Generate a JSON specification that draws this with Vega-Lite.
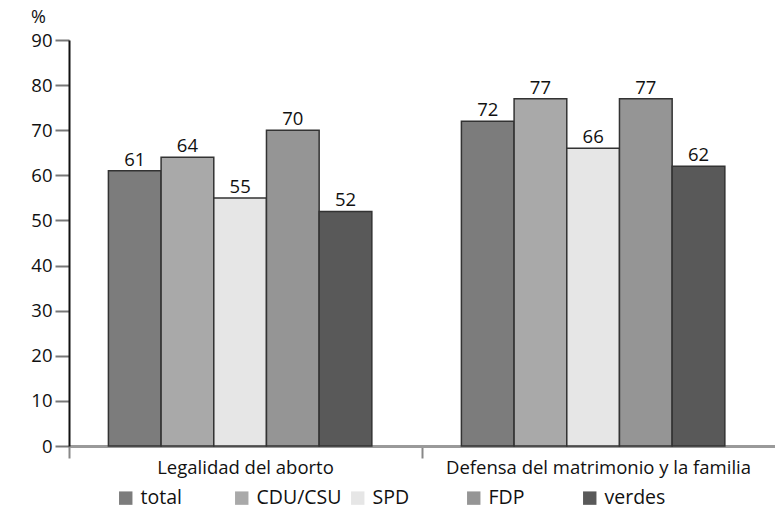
{
  "$schema": "https://vega.github.io/schema/vega-lite/v6.json",
  "autosize": "none",
  "width": 706,
  "height": 406,
  "padding": {"left": 69, "top": 40, "right": 0, "bottom": 70},
  "background": "white",
  "config": {"view": {"stroke": null}, "font": "Open Sans"},
  "data": {"values": [
    {"cat": "Legalidad del aborto", "party": "total", "v": 61},
    {"cat": "Legalidad del aborto", "party": "CDU/CSU", "v": 64},
    {"cat": "Legalidad del aborto", "party": "SPD", "v": 55},
    {"cat": "Legalidad del aborto", "party": "FDP", "v": 70},
    {"cat": "Legalidad del aborto", "party": "verdes", "v": 52},
    {"cat": "Defensa del matrimonio y la familia", "party": "total", "v": 72},
    {"cat": "Defensa del matrimonio y la familia", "party": "CDU/CSU", "v": 77},
    {"cat": "Defensa del matrimonio y la familia", "party": "SPD", "v": 66},
    {"cat": "Defensa del matrimonio y la familia", "party": "FDP", "v": 77},
    {"cat": "Defensa del matrimonio y la familia", "party": "verdes", "v": 62}
  ]},
  "encoding": {
    "x": {"field": "cat", "type": "nominal", "sort": null,
      "scale": {"paddingInner": 0, "paddingOuter": 0},
      "axis": {"title": null, "labelAngle": 0, "bandPosition": 0, "domainColor": "#9a9a9a", "domainWidth": 3, "labelLimit": 400,
        "tickColor": "#888", "tickWidth": 2, "tickSize": 12, "labelFontSize": 18.5, "labelColor": "#111", "labelPadding": 0, "labelBaseline": "top"}},
    "xOffset": {"field": "party", "type": "nominal", "sort": ["total", "CDU/CSU", "SPD", "FDP", "verdes"],
      "scale": {"paddingInner": 0, "paddingOuter": 0.85, "align": 0.44}},
    "y": {"field": "v", "type": "quantitative",
      "scale": {"domain": [0, 90], "nice": false},
      "axis": {"title": "%", "titleAngle": 0, "titleX": -31, "titleY": -14, "titleFontSize": 18, "titleFontWeight": "normal", "titleColor": "#111",
        "values": [0, 10, 20, 30, 40, 50, 60, 70, 80, 90], "grid": false, "domainColor": "#111", "domainWidth": 2,
        "tickColor": "#777", "tickWidth": 2, "tickSize": 14, "labelFontSize": 18.5, "labelColor": "#111", "labelPadding": 3}}
  },
  "layer": [
    {"mark": {"type": "bar", "stroke": "#333", "strokeWidth": 1.5},
      "encoding": {"color": {"field": "party", "type": "nominal", "sort": ["total", "CDU/CSU", "SPD", "FDP", "verdes"],
        "scale": {"domain": ["total", "CDU/CSU", "SPD", "FDP", "verdes"], "range": ["#7c7c7c", "#a9a9a9", "#e6e6e6", "#959595", "#595959"]},
        "legend": {"title": null, "orient": "none", "direction": "horizontal", "columns": 5, "gridAlign": "all", "legendX": 47, "legendY": 448,
          "symbolType": "square", "symbolSize": 180, "symbolStrokeWidth": 0, "labelFontSize": 19.5, "labelColor": "#111", "labelOffset": 5, "columnPadding": 6}}}},
    {"mark": {"type": "text", "baseline": "bottom", "dy": -1, "fontSize": 18.5, "color": "#111"},
      "encoding": {"text": {"field": "v", "type": "quantitative"}}}
  ]
}
